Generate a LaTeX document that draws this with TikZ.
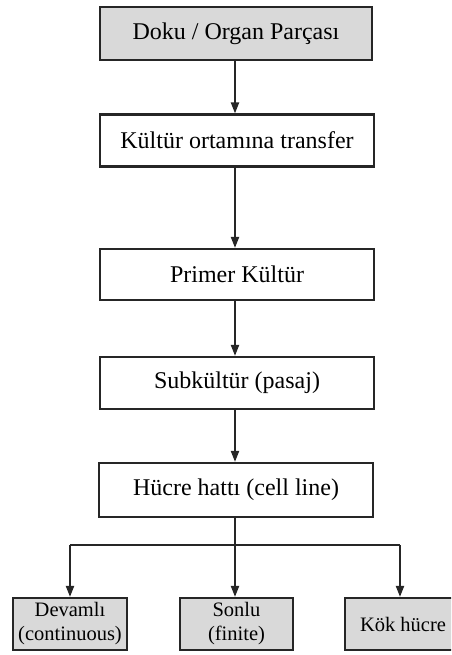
\documentclass[tikz,border=0pt]{standalone}
\usepackage{fontspec}
\setmainfont{Liberation Serif}
\usetikzlibrary{arrows.meta}
\definecolor{boxgray}{HTML}{D9D9D9}
\begin{document}
\begin{tikzpicture}[x=1pt,y=1pt,
  mainbox/.style={draw=black!85,line width=2.2pt,fill=white,inner sep=0pt,
    minimum width=274pt,minimum height=52pt,font=\fontsize{24}{27}\selectfont},
  leafbox/.style={draw=black!85,line width=2.2pt,fill=boxgray,inner sep=0pt,
    minimum height=52pt,align=center,font=\fontsize{20.5}{24}\selectfont},
  conn/.style={draw=black!85,line width=2pt},
  arr/.style={conn,-{Triangle[length=11pt,width=8pt]}}]
\useasboundingbox (0,0) rectangle (451,-655);
\clip (0,0) rectangle (451,-655);
\node[mainbox,fill=boxgray,minimum width=272pt,minimum height=53pt] (doku) at (236,-33.5) {Doku / Organ Parçası};
\node[mainbox] (transfer) at (237,-140.5) {Kültür ortamına transfer};
\node[mainbox,minimum height=51pt] (primer) at (237,-274.5) {Primer Kültür};
\node[mainbox] (sub) at (237,-383) {Subkültür (pasaj)};
\node[mainbox,minimum height=54pt] (hucre) at (236,-490) {Hücre hattı (cell line)};
\node[leafbox,minimum width=114pt] (devamli) at (70,-624) {Devamlı\\(continuous)};
\node[leafbox,minimum width=113pt] (sonlu) at (236.5,-624) {Sonlu\\(finite)};
\node[leafbox,minimum width=116pt] (kok) at (403,-624) {Kök hücre};
\coordinate (split) at (236,-545);
\draw[arr] (doku.south -| 235,0) -- (transfer.north -| 235,0);
\draw[arr] (transfer.south -| 235,0) -- (primer.north -| 235,0);
\draw[arr] (primer.south -| 235,0) -- (sub.north -| 235,0);
\draw[arr] (sub.south -| 235,0) -- (hucre.north -| 235,0);
\draw[arr] (hucre.south -| 235,0) -- (sonlu.north -| 235,0);
\draw[conn] (70,-545) -- (400,-545);
\draw[arr] (70,-545) -- (devamli.north -| 70,0);
\draw[arr] (400,-545) -- (kok.north -| 400,0);
\end{tikzpicture}
\end{document}
